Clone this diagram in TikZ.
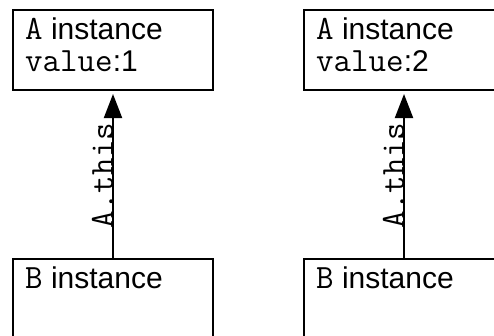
\documentclass[tikz,border=0pt]{standalone}
\usepackage{fontspec}
\setmainfont{Liberation Sans}
\usetikzlibrary{arrows.meta}
\newcommand{\mytt}[1]{{\fontsize{34}{32}\selectfont\ttfamily #1}}
\begin{document}
\begin{tikzpicture}[x=1pt,y=-1pt,
  box/.style={draw, line width=2pt, minimum width=200pt, minimum height=80pt, inner sep=0pt, anchor=north west},
  lbl/.style={anchor=base west, inner sep=0pt, font=\fontsize{30}{32}\selectfont},
  link/.style={line width=2pt, -{Triangle[length=24pt,width=18pt]}, shorten >=3pt},
  tag/.style={rotate=90, anchor=base, inner sep=0pt, xshift=-1pt}]
\useasboundingbox (0,0) rectangle (494,335);
\clip (0,0) rectangle (494,335);
% left column
\node[box] (a1) at (12,9) {};
\node[lbl] (a1n) at (25,39) {\mytt{A} instance};
\node[lbl] (a1v) at (25,71) {\mytt{value}:1};
\node[box] (b1) at (12,258) {};
\node[lbl] (b1n) at (25,288) {\mytt{B} instance};
\draw[link] (b1.north) -- node[tag, pos=0.5] (t1) {\mytt{A.this}} (a1.south);
% right column
\node[box] (a2) at (303,9) {};
\node[lbl] (a2n) at (316,39) {\mytt{A} instance};
\node[lbl] (a2v) at (316,71) {\mytt{value}:2};
\node[box] (b2) at (303,258) {};
\node[lbl] (b2n) at (316,288) {\mytt{B} instance};
\draw[link] (b2.north) -- node[tag, pos=0.5] (t2) {\mytt{A.this}} (a2.south);
\end{tikzpicture}
\end{document}
